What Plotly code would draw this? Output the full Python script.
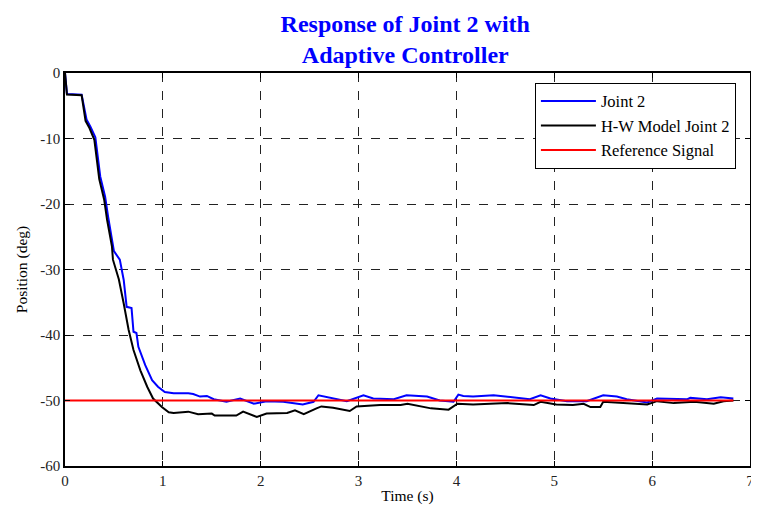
import plotly.graph_objects as go

# Joint 2 (blue)
t_joint = [0, 0.02, 0.17, 0.22, 0.26, 0.31, 0.36, 0.41, 0.44, 0.49,
           0.50, 0.56, 0.60, 0.63, 0.68, 0.70, 0.73, 0.75, 0.82, 0.89,
           0.95, 1.02, 1.09, 1.11, 1.26, 1.31, 1.38, 1.45, 1.52, 1.65,
           1.79, 1.93, 2.06, 2.23, 2.43, 2.54, 2.59, 2.74, 2.88, 3.05,
           3.15, 3.36, 3.49, 3.70, 3.83, 3.97, 4.02, 4.07, 4.17, 4.38,
           4.52, 4.75, 4.86, 4.96, 5.13, 5.33, 5.50, 5.64, 5.74, 5.95,
           6.05, 6.36, 6.39, 6.56, 6.70, 6.83]
y_joint = [0, -3.2, -3.3, -7.1, -8.2, -9.8, -15.8, -18.9, -21.9, -26,
           -27.2, -28.5, -31.6, -35.7, -35.9, -39.5, -39.7, -41.8, -44.6, -46.9,
           -47.9, -48.7, -48.9, -48.9, -48.9, -49.0, -49.4, -49.3, -49.8, -50.2,
           -49.7, -50.5, -50.1, -50.2, -50.6, -50.2, -49.2, -49.7, -50.1, -49.2,
           -49.7, -49.8, -49.2, -49.4, -50.0, -50.2, -49.1, -49.3, -49.4, -49.2,
           -49.4, -49.8, -49.2, -49.7, -50.1, -50.1, -49.2, -49.4, -49.8, -50.3,
           -49.7, -49.8, -49.6, -49.8, -49.5, -49.7]

# H-W Model Joint 2 (black)
t_model = [0, 0.02, 0.17, 0.21, 0.25, 0.30, 0.35, 0.40, 0.43, 0.48,
           0.49, 0.55, 0.60, 0.65, 0.70, 0.77, 0.84, 0.90, 0.99, 1.06,
           1.11, 1.26, 1.36, 1.50, 1.53, 1.75, 1.82, 1.96, 2.06, 2.27,
           2.35, 2.44, 2.57, 2.62, 2.74, 2.91, 2.98, 3.22, 3.43, 3.50,
           3.74, 3.92, 4.01, 4.17, 4.52, 4.79, 4.86, 5.02, 5.19, 5.30,
           5.37, 5.47, 5.50, 5.74, 5.95, 6.05, 6.22, 6.43, 6.63, 6.73,
           6.83]
y_model = [0, -3.3, -3.4, -7.3, -8.4, -10.2, -16.2, -19.3, -22.4, -26.5,
           -28.5, -31.5, -35.2, -39.2, -42.3, -45.4, -47.9, -49.7, -51.0, -51.8,
           -51.9, -51.7, -52.1, -52.0, -52.3, -52.3, -51.7, -52.5, -52.0, -51.9,
           -51.5, -52.1, -51.2, -50.9, -51.1, -51.6, -50.9, -50.7, -50.7, -50.5,
           -51.2, -51.4, -50.5, -50.6, -50.4, -50.7, -50.2, -50.6, -50.7, -50.5,
           -51.0, -51.0, -50.2, -50.4, -50.6, -50.1, -50.4, -50.2, -50.5, -50.1,
           -50.0]

# Reference signal (red)
t_ref = [0, 6.83]
y_ref = [-50, -50]

x_ticks = [0, 1, 2, 3, 4, 5, 6, 7]
y_ticks = [0, -10, -20, -30, -40, -50, -60]
y_tick_labels = ["0", "-10", "-20", "-30", "-40", "-50", "-60"]

SERIF = "Liberation Serif, Times New Roman, serif"

fig = go.Figure()
fig.add_trace(go.Scatter(x=t_joint, y=y_joint, mode="lines", name="Joint 2",
                         line=dict(color="#0000ff", width=2)))
fig.add_trace(go.Scatter(x=t_model, y=y_model, mode="lines", name="H-W Model Joint 2",
                         line=dict(color="#000000", width=2)))
fig.add_trace(go.Scatter(x=t_ref, y=y_ref, mode="lines", name="Reference Signal",
                         line=dict(color="#ff0000", width=2)))

axis_common = dict(
    showline=True, linecolor="black", linewidth=1.5, mirror="ticks",
    ticks="inside", ticklen=5, tickcolor="black",
    showgrid=True, gridcolor="#222222", gridwidth=1, griddash="dash",
    zeroline=False, automargin=False,
    tickfont=dict(family=SERIF, size=15, color="#222222"),
)

# The page body has an 8px margin, so the figure is 8px smaller than the window
fig.update_layout(
    width=751, height=503,
    margin=dict(l=57, r=9, t=65, b=45),
    paper_bgcolor="white", plot_bgcolor="white",
    title=dict(text="Response of Joint 2 with<br>Adaptive Controller",
               x=0.529, xanchor="center", y=0.953, yanchor="middle",
               font=dict(family=SERIF, size=24, color="#0000ff", weight="bold")),
    xaxis=dict(range=[0, 7], tickvals=x_ticks,
               title=dict(text="Time (s)", standoff=2,
                          font=dict(family=SERIF, size=15.5, color="black")),
               **axis_common),
    yaxis=dict(range=[-60, 0], tickvals=y_ticks, ticktext=y_tick_labels,
               title=dict(text="Position (deg)", standoff=9,
                          font=dict(family=SERIF, size=15.5, color="black")),
               **axis_common),
    legend=dict(x=0.686, y=0.975, xanchor="left", yanchor="top",
                bgcolor="white", bordercolor="black", borderwidth=1,
                font=dict(family=SERIF, size=16.5, color="black"),
                tracegroupgap=0, itemwidth=55),
    showlegend=True,
)

fig.write_html("out.html")
